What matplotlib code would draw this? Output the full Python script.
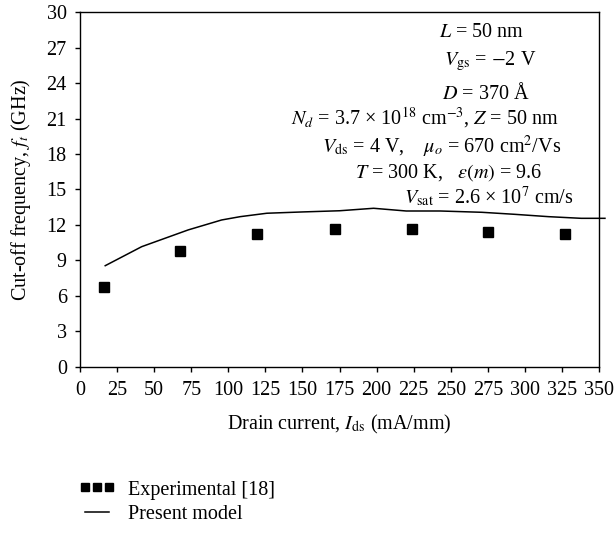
import matplotlib
matplotlib.use("Agg")
import matplotlib.pyplot as plt
from matplotlib.lines import Line2D

plt.rcParams['font.family'] = ['Liberation Serif', 'DejaVu Serif']
plt.rcParams['mathtext.fontset'] = 'stix'
plt.rcParams['font.size'] = 14.5

# experimental points
exp_ids = [16.4, 67.6, 119.6, 171.7, 223.6, 275.3, 327.3]
exp_ft = [6.72, 9.80, 11.21, 11.63, 11.63, 11.38, 11.21]

# present model curve
model_ids = [17, 41.6, 73, 95.5, 108, 126, 150, 175, 198, 220, 243, 271, 293, 316, 338, 354]
model_ft = [8.55, 10.16, 11.58, 12.42, 12.70, 12.99, 13.1, 13.2, 13.41, 13.18, 13.18, 13.07, 12.9, 12.7, 12.56, 12.56]

xticks = list(range(0, 351, 25))
yticks = list(range(0, 31, 3))

fig = plt.figure(figsize=(6.15, 5.35), dpi=100)
ax = fig.add_axes([0.1301, 0.3146, 0.8439, 0.6624])

ax.plot(model_ids, model_ft, color='black', lw=1.1, clip_on=False)
ax.plot(exp_ids, exp_ft, ls='none', marker='s', ms=7.7, color='black')

ax.set_xlim(0, 350)
ax.set_ylim(0, 30)
ax.set_xticks(xticks)
ax.set_yticks(yticks)
ax.tick_params(axis='x', direction='out', length=3.5, width=1, pad=7)
ax.tick_params(axis='y', direction='out', length=3.5, width=1, pad=6)
for s in ax.spines.values():
    s.set_linewidth(1)

ax.set_xlabel(r"Drain current, $I_{\rm ds}$ (mA/mm)", labelpad=9)
ax.set_ylabel(r"Cut-off frequency, $f_t$ (GHz)", labelpad=10)

# parameter annotations
notes = [
    (0.774, 0.942, r"$L$ = 50 nm"),
    (0.790, 0.862, r"$V_{\rm gs}$ = $-$2 V"),
    (0.782, 0.772, r"$D$ = 370 Å"),
    (0.665, 0.702, r"$N_d$ = 3.7 × 10$^{18}$ cm$^{-3}$, $Z$ = 50 nm"),
    (0.697, 0.620, r"$V_{\rm ds}$ = 4 V,    $\mu_o$ = 670 cm$^2$/Vs"),
    (0.711, 0.547, r"$T$ = 300 K,   $\varepsilon(m)$ = 9.6"),
    (0.788, 0.479, r"$V_{\rm sat}$ = 2.6 × 10$^7$ cm/s"),
]
for x, y, t in notes:
    ax.text(x, y, t, transform=ax.transAxes, ha='center', va='center')

handles = [
    Line2D([], [], ls='none', marker='s', ms=5.6, color='black'),
    Line2D([], [], color='black', lw=1.1),
]
fig.legend(handles, ["Experimental [18]", "Present model"],
           loc='upper left', bbox_to_anchor=(0.128, 0.102),
           frameon=False, numpoints=3, handlelength=1.8, handletextpad=0.65,
           labelspacing=0.25, borderaxespad=0, borderpad=0)

fig.savefig("out.png", dpi=100)
